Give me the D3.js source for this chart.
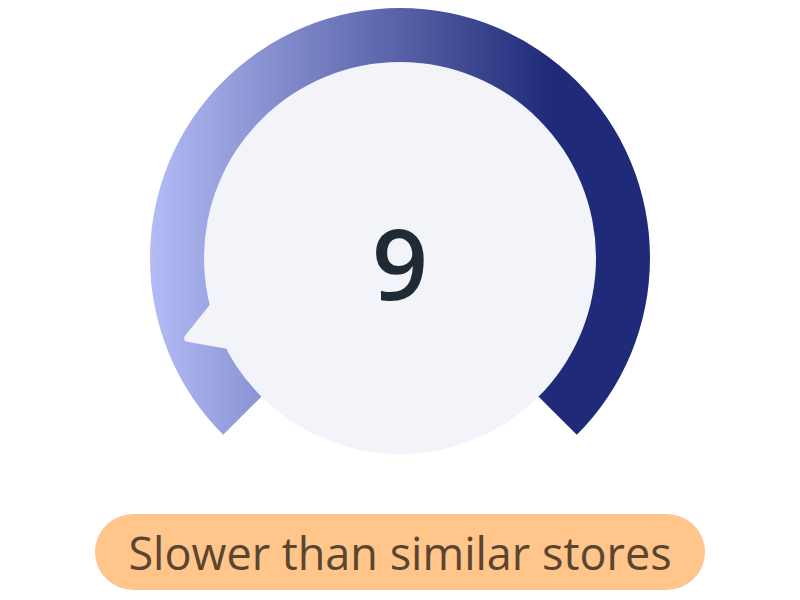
<!DOCTYPE html>
<html>
<head>
<meta charset="utf-8">
<script src="https://cdn.jsdelivr.net/npm/d3@7"></script>
<style>
  html, body { margin: 0; padding: 0; background: #fff; }
  svg { display: block; }
</style>
</head>
<body>
<svg id="chart" width="800" height="600"></svg>
<script>
// gauge data
const score = 9
const scoreDomain = [0, 100]
const scoreLabel = 'Slower than similar stores'

const width = 800, height = 600
const cx = 400, cy = 258
const outerR = 250, innerR = 196

const svg = d3.select('#chart')

// angle scale: value -> degrees from top, clockwise
const angle = d3.scaleLinear()
  .domain(scoreDomain)
  .range([-135, 135])

const defs = svg.append('defs')
// gradient coords are in the gauge group's local space (centre = 0,0)
const grad = defs.append('linearGradient')
  .attr('id', 'arcGrad')
  .attr('gradientUnits', 'userSpaceOnUse')
  .attr('x1', -outerR).attr('y1', 0)
  .attr('x2', outerR * 0.6).attr('y2', 0)
grad.append('stop').attr('offset', '0%').attr('stop-color', '#b3bcf5')
grad.append('stop').attr('offset', '100%').attr('stop-color', '#1f2b78')

const g = svg.append('g').attr('transform', `translate(${cx},${cy})`)

const toRad = d => d * Math.PI / 180

const arc = d3.arc()
  .innerRadius(innerR - 2)
  .outerRadius(outerR)
  .startAngle(toRad(angle(scoreDomain[0])))
  .endAngle(toRad(angle(scoreDomain[1])))

g.append('path')
  .attr('d', arc())
  .attr('fill', 'url(#arcGrad)')

// inner disc
g.append('circle')
  .attr('r', innerR)
  .attr('fill', '#f3f4f9')

// pointer (triangle on the disc edge)
const tipR = 227, baseR = 180, halfW = 28
const pointer = d3.line().curve(d3.curveLinearClosed)
g.append('path')
  .attr('d', pointer([[-halfW, -baseR], [0, -tipR], [halfW, -baseR]]))
  .attr('fill', '#f3f4f9')
  .attr('stroke', '#f3f4f9')
  .attr('stroke-width', 7)
  .attr('stroke-linejoin', 'round')
  .attr('transform', `rotate(${angle(score)})`)

g.append('text')
  .attr('x', 0)
  .attr('y', 42)
  .attr('text-anchor', 'middle')
  .attr('font-family', '"Open Sans", sans-serif')
  .attr('font-weight', 600)
  .attr('font-size', 98)
  .attr('fill', '#1f2a35')
  .text(score)

// label pill
const pill = svg.append('g').attr('transform', 'translate(400,552)')
pill.append('rect')
  .attr('x', -305).attr('y', -38)
  .attr('width', 610).attr('height', 76)
  .attr('rx', 38)
  .attr('fill', '#ffc58a')
pill.append('text')
  .attr('text-anchor', 'middle')
  .attr('y', 18)
  .attr('font-family', '"Open Sans", sans-serif')
  .attr('font-size', 45)
  .attr('fill', '#5a4530')
  .text(scoreLabel)
</script>
</body>
</html>
